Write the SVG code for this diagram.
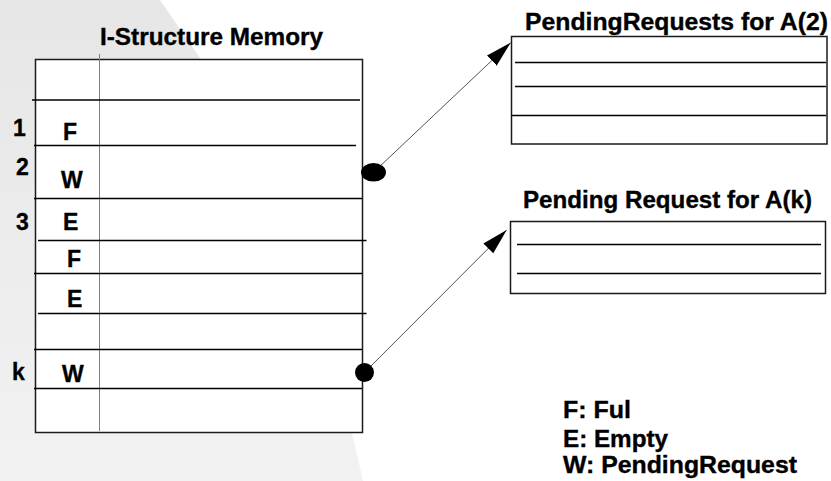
<svg xmlns="http://www.w3.org/2000/svg" width="831" height="481" viewBox="0 0 831 481">
  <defs>
    <linearGradient id="bgShade" x1="0" y1="0" x2="0" y2="1">
      <stop offset="0" stop-color="#e6e6e6"/>
      <stop offset="1" stop-color="#f2f2f2"/>
    </linearGradient>
    <marker id="arrowHead" markerUnits="userSpaceOnUse" markerWidth="27" markerHeight="15" refX="26" refY="7" orient="auto">
      <path d="M0,0 L26,7 L0,14 z" fill="#000"/>
    </marker>
    <style>
      text { font-family: "Liberation Sans", Arial, sans-serif; font-weight: bold; fill: #000; stroke: #000; stroke-width: 0.35; }
      .heading { font-size: 23px; }
      .lbl { font-size: 23px; }
      .legend { font-size: 23px; }
      .frame { fill: #fff; stroke: #1a1a1a; stroke-width: 1.5; }
      .rule { stroke: #000; stroke-width: 1.3; }
      .divider { stroke: #808080; stroke-width: 1; }
      .link { stroke: #555; stroke-width: 1; fill: none; }
      .dot { fill: #000; }
    </style>
  </defs>

  <!-- slide background wedge -->
  <polygon points="0,0 160,0 200,58 352,433 363,481 0,481" fill="url(#bgShade)"/>

  <!-- I-Structure memory table -->
  <g id="istructure-memory">
    <text class="heading" x="100" y="45" textLength="223" lengthAdjust="spacingAndGlyphs">I-Structure Memory</text>
    <rect class="frame" x="35.5" y="59.5" width="327" height="373"/>
    <line class="divider" x1="99.5" y1="54" x2="99.5" y2="431"/>
    <line class="rule" x1="32" y1="100" x2="360" y2="100"/>
    <line class="rule" x1="34" y1="145.5" x2="356" y2="145.5"/>
    <line class="rule" x1="34" y1="198.5" x2="362" y2="198.5"/>
    <line class="rule" x1="38" y1="240.5" x2="366.5" y2="240.5"/>
    <line class="rule" x1="34" y1="273.5" x2="362" y2="273.5"/>
    <line class="rule" x1="38" y1="313.5" x2="366.5" y2="313.5"/>
    <line class="rule" x1="34" y1="349.5" x2="362" y2="349.5"/>
    <line class="rule" x1="34" y1="388.5" x2="362" y2="388.5"/>

    <!-- element indices -->
    <text class="lbl" x="13" y="136">1</text>
    <text class="lbl" x="16" y="175">2</text>
    <text class="lbl" x="16" y="230">3</text>
    <text class="lbl" x="12" y="380">k</text>

    <!-- element states -->
    <text class="lbl" x="63" y="140">F</text>
    <text class="lbl" x="61" y="188">W</text>
    <text class="lbl" x="63" y="230">E</text>
    <text class="lbl" x="67" y="266.5">F</text>
    <text class="lbl" x="67" y="306.5">E</text>
    <text class="lbl" x="62" y="381.5">W</text>
  </g>

  <!-- deferred request list for A(2) -->
  <g id="pending-a2">
    <text class="heading" x="525" y="30" textLength="303" lengthAdjust="spacingAndGlyphs">PendingRequests for A(2)</text>
    <rect class="frame" x="511.5" y="36.5" width="315.5" height="107.5" stroke="#333"/>
    <line class="rule" x1="515" y1="62.5" x2="826" y2="62.5"/>
    <line class="rule" x1="515" y1="86.5" x2="826" y2="86.5"/>
    <line class="rule" x1="511.5" y1="115.5" x2="826" y2="115.5"/>
  </g>

  <!-- deferred request list for A(k) -->
  <g id="pending-ak">
    <text class="heading" x="523" y="208" textLength="289" lengthAdjust="spacingAndGlyphs">Pending Request for A(k)</text>
    <rect class="frame" x="510.5" y="221.5" width="315" height="72" stroke="#333"/>
    <line class="rule" x1="517" y1="244.5" x2="821" y2="244.5"/>
    <line class="rule" x1="517" y1="273.5" x2="821" y2="273.5"/>
  </g>

  <!-- connectors from waiting elements to their request lists -->
  <g id="connectors">
    <line class="link" x1="373.5" y1="172.3" x2="510.7" y2="42.7" marker-end="url(#arrowHead)"/>
    <ellipse class="dot" cx="373.5" cy="172.3" rx="12.5" ry="9.3"/>
    <line class="link" x1="364.5" y1="372.5" x2="506.7" y2="230" marker-end="url(#arrowHead)"/>
    <circle class="dot" cx="364.5" cy="372.5" r="9.5"/>
  </g>

  <!-- legend -->
  <g id="legend">
    <text class="legend" x="563" y="418" textLength="68" lengthAdjust="spacingAndGlyphs">F: Ful</text>
    <text class="legend" x="563" y="447" textLength="105" lengthAdjust="spacingAndGlyphs">E: Empty</text>
    <text class="legend" x="563" y="473" textLength="234" lengthAdjust="spacingAndGlyphs">W: PendingRequest</text>
  </g>
</svg>
